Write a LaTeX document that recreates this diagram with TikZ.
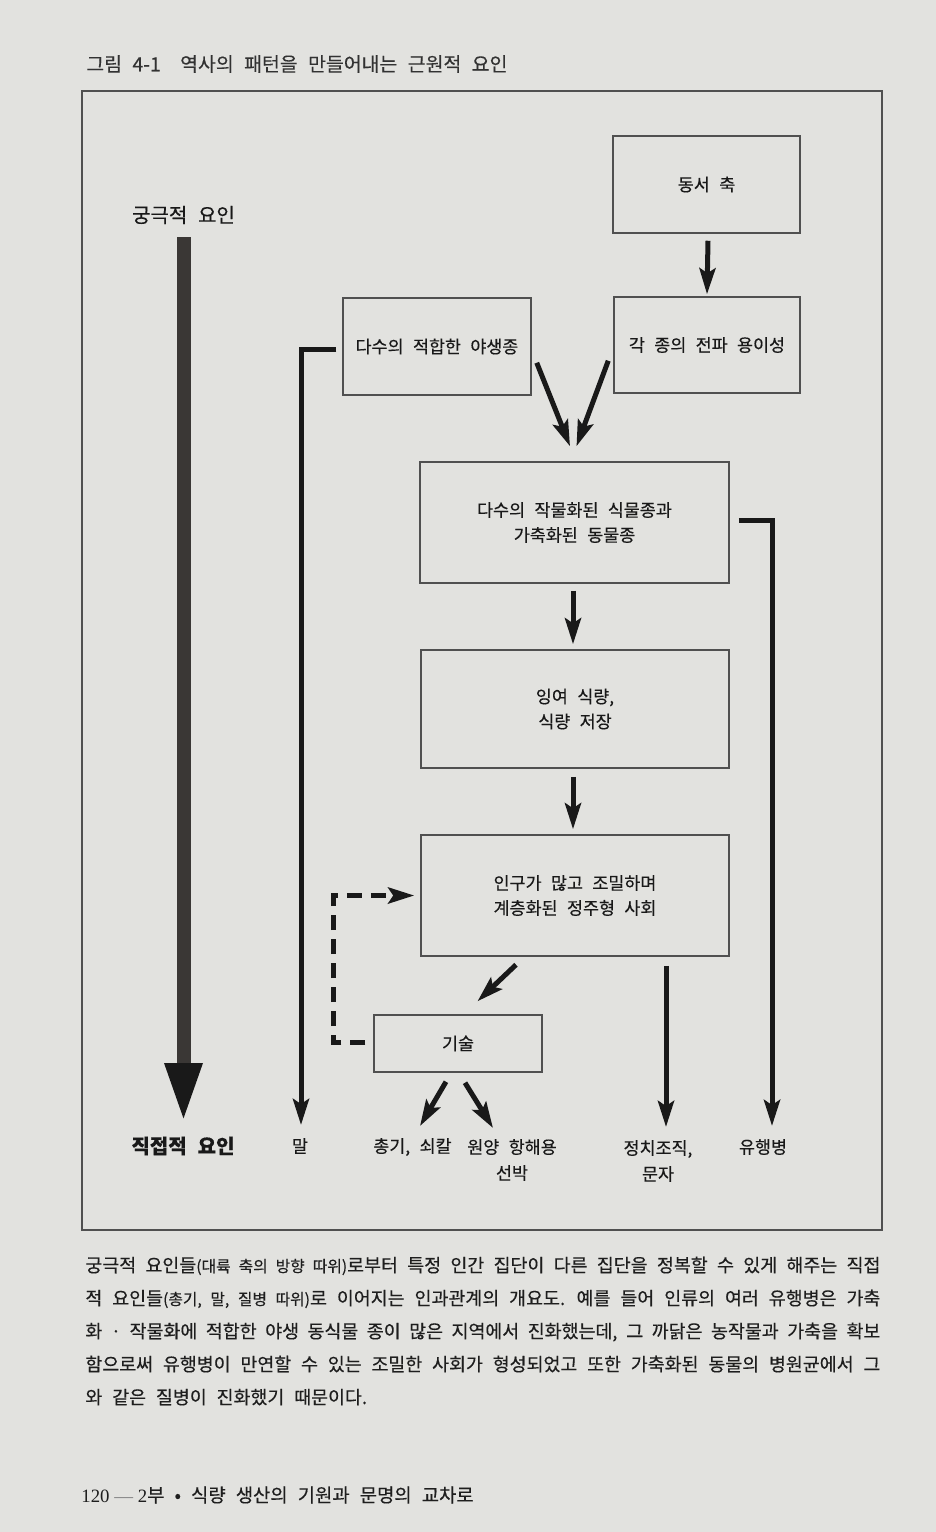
\documentclass[tikz,border=0pt]{standalone}
\usepackage{fontspec}
\setmainfont{Noto Sans CJK KR}[WordSpace={2.4,2.4,2.4},FakeBold=0.3]
\newfontfamily\seriffont{Liberation Serif}
\usetikzlibrary{arrows.meta,calc}
\definecolor{paper}{RGB}{226,226,223}
\definecolor{ink}{RGB}{25,25,25}
\definecolor{boxline}{RGB}{80,80,80}
\definecolor{titleink}{RGB}{50,50,50}
\definecolor{barink}{RGB}{58,55,53}
\definecolor{capink}{RGB}{30,30,30}
\newcommand\bxfont{\fontsize{8.7pt}{12.5pt}\selectfont}
\newcommand\lbfont{\fontsize{8.7pt}{13pt}\selectfont}
\newcommand\bigfont{\fontsize{10pt}{12pt}\selectfont}
\newcommand\ttlfont{\fontsize{9.7pt}{12pt}\selectfont}
\newcommand\capfont{\fontsize{9.2pt}{11pt}\selectfont}
\newcommand\capsmall{\fontsize{7.9pt}{10pt}\selectfont}
\begin{document}
\begin{tikzpicture}[x=0.5pt,y=-0.5pt,
  box/.style={draw=boxline, line width=0.75pt, align=center, inner sep=0pt, font=\bxfont, text=ink},
  lbl/.style={inner sep=0pt, font=\lbfont, text=ink, align=center},
  arr/.style={draw=ink, line width=2.5pt, -{Stealth[length=13pt,width=8pt,inset=2.5pt]}},
  dasharr/.style={arr, dash pattern=on 7.5pt off 4.5pt},
  bigarr/.style={draw=barink, line width=7pt, -{Triangle[length=30pt,width=17pt,color=ink]}},
  capline/.style={anchor=base west, inner sep=0pt, font=\capfont, text=capink}
]
\fill[paper] (0,0) rectangle (936,1532);
\useasboundingbox (0,0) rectangle (936,1532);

% title
\node[anchor=west, inner sep=0pt, font=\ttlfont, text=titleink] (title) at (86,64)
  {그림 4-1\quad 역사의 패턴을 만들어내는 근원적 요인};

% frame
\draw[boxline, line width=0.7pt] (82,91) rectangle (882,1230);

% boxes
\node[box, minimum width=93.5pt, minimum height=48.5pt] (ew) at (706.5,184.5) {동서 축};
\node[box, minimum width=94pt, minimum height=48.5pt] (wild) at (437,346.5) {다수의 적합한 야생종};
\node[box, minimum width=93pt, minimum height=48pt] (spread) at (707,345) {각 종의 전파 용이성};
\node[box, minimum width=154.5pt, minimum height=60.5pt] (crops) at (574.5,522.5) {다수의 작물화된 식물종과\\가축화된 동물종};
\node[box, minimum width=154pt, minimum height=59pt] (surplus) at (575,709) {잉여 식량,\\식량 저장};
\node[box, minimum width=154pt, minimum height=60.5pt] (society) at (575,895.5) {인구가 많고 조밀하며\\계층화된 정주형 사회};
\node[box, minimum width=84pt, minimum height=28.5pt] (tech) at (458,1043.5) {기술};

% labels
\node[lbl, font=\bigfont] (ult) at (183.5,215) {궁극적 요인};
\node[lbl, font=\bigfont\bfseries] (direct) at (183,1146) {직접적 요인};
\node[lbl] (mal) at (300,1146) {말};
\node[lbl] (gun) at (412.5,1147) {총기, 쇠칼};
\node[lbl] (ship) at (512,1160) {원양 항해용\\선박};
\node[lbl] (pol) at (658,1161) {정치조직,\\문자};
\node[lbl] (epi) at (763,1147) {유행병};

% connectors
\draw[bigarr] ($(ult.center)+(0,22)$) -- ($(ult.center)+(0,908)$);
\draw[arr] ($(ew.south)+(1.5,7)$) -- ($(spread.north)+(0,-2)$);
\draw[arr] ($(wild.south east)+(5,-33)$) -- ($(crops.north)+(-4.5,-15)$);
\draw[arr] ($(spread.south west)+(-5,-33)$) -- ($(crops.north)+(2,-15)$);
\draw[arr] ($(crops.south)+(-1.5,7)$) -- ($(surplus.north)+(-2,-5)$);
\draw[arr] ($(surplus.south)+(-2,8)$) -- ($(society.north)+(-2,-5)$);
\draw[arr] ($(society.south)+(-59,8)$) -- ($(tech.north)+(19.5,-13)$);
\draw[arr] ($(tech.south)+(-12,9)$) -- ($(gun.center)+(7.5,-21)$);
\draw[arr] ($(tech.south)+(7,10)$) -- ($(ship.center)+(-19,-32)$);
\draw[arr] ($(society.south)+(91,9)$) -- ($(pol.center)+(8,-34)$);
\draw[arr] ($(crops.east)+(9,-2)$) -| ($(epi.center)+(9,-21)$);
\draw[arr] ($(wild.west)+(-6,3)$) -| ($(mal.center)+(1,-21)$);
\draw[dasharr] ($(tech.west)+(-8,-1.5)$) -- ++(-32,0) |- ($(society.west)+(-6,0)$);

% caption
\node[capline] (c1) at (85,1272) {\makebox[397.5pt][s]{궁극적 요인들{\capsmall(대륙 축의 방향 따위)}로부터 특정 인간 집단이 다른 집단을 정복할 수 있게 해주는 직접}};
\node[capline] (c2) at (85,1305) {\makebox[397.5pt][s]{적 요인들{\capsmall(총기, 말, 질병 따위)}로 이어지는 인과관계의 개요도. 예를 들어 인류의 여러 유행병은 가축}};
\node[capline] (c3) at (85,1338) {\makebox[397.5pt][s]{화 · 작물화에 적합한 야생 동식물 종이 많은 지역에서 진화했는데, 그 까닭은 농작물과 가축을 확보}};
\node[capline] (c4) at (85,1371) {\makebox[397.5pt][s]{함으로써 유행병이 만연할 수 있는 조밀한 사회가 형성되었고 또한 가축화된 동물의 병원균에서 그}};
\node[capline] (c5) at (85,1404) {와 같은 질병이 진화했기 때문이다.};

% footer
\node[anchor=west, inner sep=0pt, font=\fontsize{9.4pt}{12pt}\selectfont, text=capink] (foot) at (81,1495)
  {{\seriffont 120 {\color{gray}—} 2}부 • 식량 생산의 기원과 문명의 교차로};
\end{tikzpicture}
\end{document}
